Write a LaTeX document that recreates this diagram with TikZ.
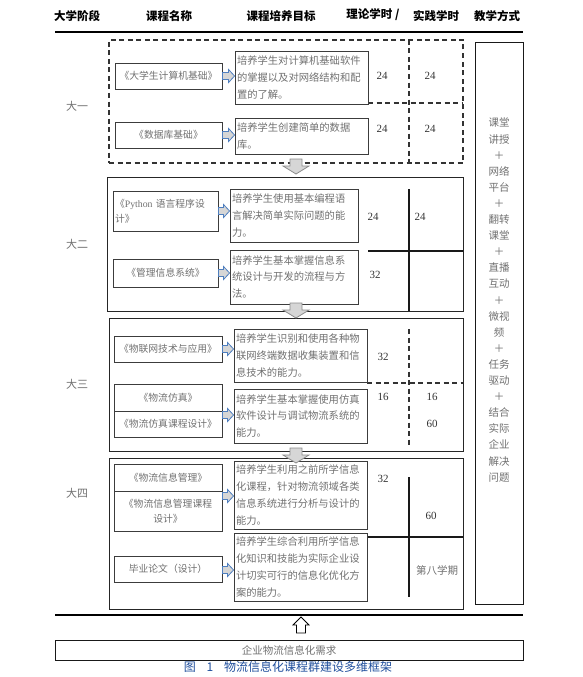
\documentclass[tikz,border=0pt]{standalone}
\usepackage{fontspec}
\setmainfont{Liberation Serif}
\newfontfamily\cjk{Noto Sans CJK SC}
\usetikzlibrary{calc}
\definecolor{txtg}{HTML}{707070}
\definecolor{boxl}{HTML}{3C3C3C}
\definecolor{numc}{HTML}{333333}
\definecolor{arrb}{HTML}{4F7FBF}
\definecolor{arrf}{HTML}{D6D6D6}
\definecolor{capb}{HTML}{1F4E9C}
\newcommand\rarr[3]{%
  \filldraw[sarr] ($(#1.east |- 0,#3)+(0,-3.5)$) -- ($(#2.west |- 0,#3)+(-6,-3.5)$) -- ($(#2.west |- 0,#3)+(-6,-6.5)$) -- (#2.west |- 0,#3) -- ($(#2.west |- 0,#3)+(-6,6.5)$) -- ($(#2.west |- 0,#3)+(-6,3.5)$) -- ($(#1.east |- 0,#3)+(0,3.5)$) -- cycle;}
\newcommand\darr[3]{%
  \filldraw[darrs] (#1-6,#2) -- (#1+6,#2) -- (#1+6,#3-8) -- (#1+13,#3-8) -- (#1,#3) -- (#1-13,#3-8) -- (#1-6,#3-8) -- cycle;}
\begin{document}
\begin{tikzpicture}[x=1pt,y=-1pt,
 hdr/.style={font=\cjk\bfseries\fontsize{11.5}{13}\selectfont, inner sep=0},
 stage/.style={font=\cjk\fontsize{11}{13}\selectfont, text=txtg, inner sep=0},
 cbox/.style 2 args={draw=boxl, line width=0.9pt, minimum width=#1, minimum height=#2, inner sep=1pt, align=center, font=\cjk\fontsize{9.8}{15}\selectfont, text=txtg},
 gbox/.style n args={3}{draw=boxl, line width=0.9pt, minimum width=#1, minimum height=#2, text width=#3, inner xsep=2pt, inner ysep=0pt, align=left, font=\cjk\fontsize{10.3}{16.8}\selectfont, text=txtg},
 ybox/.style 2 args={draw=black!85, line width=1pt, minimum width=#1, minimum height=#2, inner sep=0},
 num/.style={font=\fontsize{11}{13}\selectfont, text=numc, inner sep=0},
 dsh/.style={draw=black!80, line width=1.3pt, dash pattern=on 5pt off 3.5pt},
 sol/.style={draw=black!90, line width=1.5pt},
 sarr/.style={fill=arrf, draw=arrb, line width=0.8pt, line join=miter},
 darrs/.style={fill=arrf, draw=black!45, line width=0.8pt},
]
\useasboundingbox (0,0) rectangle (583,677);
% header
\node[hdr] (h1) at (77,16) {大学阶段};
\node[hdr] (h2) at (169,16) {课程名称};
\node[hdr] (h3) at (281,16) {课程培养目标};
\node[hdr] (h4) at (373,15) {理论学时 /};
\node[hdr] (h5) at (436,16) {实践学时};
\node[hdr] (h6) at (497,16) {教学方式};
\draw[line width=2pt] (55,32) -- (523,32);

% year 1
\node[ybox={354pt}{123pt}, dsh] (y1) at (286,101.5) {};
\draw[dsh] (409,40) -- (409,163);
\draw[dsh] (368,103) -- (463,103);
\node[stage] (s1) at (77,106) {大一};
\node[cbox={107pt}{26pt}] (c11) at (168.5,76) {《大学生计算机基础》};
\node[gbox={133pt}{53pt}{129pt}] (g11) at (301.5,77.5) {培养学生对计算机基础软件\\的掌握以及对网络结构和配\\置的了解。};
\node[cbox={107pt}{26pt}] (c12) at (168.5,135) {《数据库基础》};
\node[gbox={133pt}{36pt}{129pt}] (g12) at (301.5,136) {培养学生创建简单的数据\\库。};
\node[num] (n11) at (382,76) {24};
\node[num] (n12) at (430,76) {24};
\node[num] (n13) at (382,129) {24};
\node[num] (n14) at (430,129) {24};
\rarr{c11}{g11}{76}
\rarr{c12}{g12}{135}

% year 2
\node[ybox={356pt}{134pt}] (y2) at (285,244) {};
\draw[sol] (409,189) -- (409,311);
\draw[sol] (368,251) -- (463,251);
\node[stage] (s2) at (77,244) {大二};
\node[cbox={105pt}{40pt}, align=left, text width=101pt] (c21) at (165.5,211) {《{\rmfamily Python} 语言程序设\\计》};
\node[gbox={128pt}{53pt}{124pt}] (g21) at (294,215.5) {培养学生使用基本编程语\\言解决简单实际问题的能\\力。};
\node[cbox={105pt}{28pt}] (c22) at (165.5,273) {《管理信息系统》};
\node[gbox={128pt}{54pt}{124pt}] (g22) at (294,277) {培养学生基本掌握信息系\\统设计与开发的流程与方\\法。};
\node[num] (n21) at (373,217) {24};
\node[num] (n22) at (420,217) {24};
\node[num] (n23) at (375,275) {32};
\rarr{c21}{g21}{211}
\rarr{c22}{g22}{273}

% year 3
\node[ybox={354pt}{133pt}] (y3) at (286,384.5) {};
\draw[dsh] (409,329) -- (409,447);
\draw[dsh] (367,383) -- (463,383);
\node[stage] (s3) at (77,384) {大三};
\node[cbox={108pt}{26pt}] (c31) at (168,349) {《物联网技术与应用》};
\node[gbox={133pt}{53pt}{129pt}] (g31) at (300.5,355.5) {培养学生识别和使用各种物\\联网终端数据收集装置和信\\息技术的能力。};
\node[cbox={108pt}{27pt}] (c32a) at (168,397.5) {《物流仿真》};
\node[cbox={108pt}{26pt}] (c32b) at (168,424) {《物流仿真课程设计》};
\node[gbox={133pt}{54pt}{129pt}] (g32) at (300.5,416) {培养学生基本掌握使用仿真\\软件设计与调试物流系统的\\能力。};
\node[num] (n31) at (383,357) {32};
\node[num] (n32) at (383,397) {16};
\node[num] (n33) at (432,397) {16};
\node[num] (n34) at (432,424) {60};
\rarr{c31}{g31}{349}
\rarr{c32b}{g32}{415}

% year 4
\node[ybox={354pt}{151pt}] (y4) at (286,533.5) {};
\draw[sol] (409,477) -- (409,597);
\draw[sol] (368,537) -- (463,537);
\node[stage] (s4) at (77,493) {大四};
\node[cbox={108pt}{27pt}] (c41a) at (168,477.5) {《物流信息管理》};
\node[cbox={108pt}{40pt}] (c41b) at (168,511) {《物流信息管理课程\\设计》};
\node[gbox={133pt}{68pt}{129pt}] (g41) at (300.5,495) {培养学生利用之前所学信息\\化课程，针对物流领域各类\\信息系统进行分析与设计的\\能力。};
\node[cbox={108pt}{26pt}] (c42) at (168,569) {毕业论文（设计）};
\node[gbox={133pt}{68pt}{129pt}] (g42) at (300.5,567) {培养学生综合利用所学信息\\化知识和技能为实际企业设\\计切实可行的信息化优化方\\案的能力。};
\node[num] (n41) at (383,479) {32};
\node[num] (n42) at (431,516) {60};
\node[stage, font=\cjk\fontsize{10.5}{13}\selectfont] (n43) at (437,570) {第八学期};
\rarr{c41b}{g41}{496}
\rarr{c42}{g42}{570}

% stage arrows
\darr{296}{159}{174}
\darr{296}{303}{318}
\darr{296}{448}{463}

% teaching method column
\node[draw=black!90, line width=1pt, minimum width=48pt, minimum height=561pt, inner sep=0] (tm) at (499,323.5) {};
\node[font=\cjk\fontsize{10.5}{16.1}\selectfont, text=txtg, align=center, inner sep=0] (tmt) at (499,300) {课堂\\讲授\\＋\\网络\\平台\\＋\\翻转\\课堂\\＋\\直播\\互动\\＋\\微视\\频\\＋\\任务\\驱动\\＋\\结合\\实际\\企业\\解决\\问题};

% bottom
\draw[line width=2pt] (55,615) -- (523,615);
\node[draw=black!90, line width=1pt, minimum width=468pt, minimum height=20pt, inner sep=0, font=\cjk\fontsize{10.5}{13}\selectfont, text=txtg] (need) at (289,650.5) {企业物流信息化需求};
\filldraw[fill=white, draw=black, line width=0.8pt] (296.5,633) -- (305.5,633) -- (305.5,625) -- (309,625) -- (301,617) -- (293,625) -- (296.5,625) -- cycle;
\node[font=\cjk\fontsize{12}{14}\selectfont, text=capb, inner sep=0] (cap) at (288,667) {图\hspace{0.9em}1\hspace{0.9em}物流信息化课程群建设多维框架};
\end{tikzpicture}
\end{document}
